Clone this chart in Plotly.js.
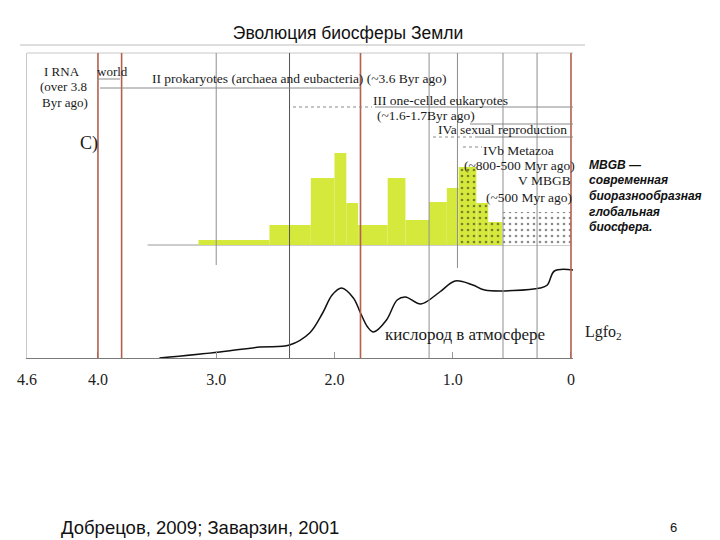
<!DOCTYPE html>
<html>
<head>
<meta charset="utf-8">
<script src="https://cdn.plot.ly/plotly-3.0.1.min.js"></script>
<style>
  html, body { margin: 0; padding: 0; background: #ffffff; }
  #chart { width: 720px; height: 540px; }
</style>
</head>
<body>
<div id="chart"></div>
<script>
// ---------------- DATA ----------------
// Time axis (billions of years ago)
const ageTicks = [4.6, 4.0, 3.0, 2.0, 1.0, 0];
const ageTickText = ['4.6', '4.0', '3.0', '2.0', '1.0', '0'];

// Biodiversity histogram (arbitrary units above the histogram baseline)
const binStart  = [3.15, 2.55, 2.2, 2.0, 1.9, 1.8, 1.55, 1.4, 1.2, 1.05, 0.95, 0.8, 0.7];
const binEnd    = [2.55, 2.2, 2.0, 1.9, 1.8, 1.55, 1.4, 1.2, 1.05, 0.95, 0.8, 0.7, 0.58];
const binHeight = [5, 20, 67, 92, 42, 20, 67, 25, 43, 57, 78, 42, 23];
const binDotted = [0, 0, 0, 0, 0, 0, 0, 0, 0, 0, 1, 1, 1];
// Modern biodiverse global biosphere (white dotted block)
const mbgbStart  = [0.58];
const mbgbEnd    = [0];
const mbgbHeight = [33];
const histBaseline = 113;
const histBaselineFrom = 3.58;

// Atmospheric oxygen curve (Lg fO2, arbitrary units)
const oxyAge   = [3.48, 2.97, 2.63, 2.38, 2.21, 2.10, 2.02, 1.94, 1.84, 1.78, 1.72, 1.67, 1.56, 1.47, 1.40, 1.27, 1.11, 0.98, 0.83, 0.73, 0.26, 0.20, 0.14, -0.017];
const oxyLevel = [0, 6, 11, 13, 25, 45, 63, 70, 60, 45, 31, 26, 38, 58, 61, 54, 66, 77, 73, 68, 70, 73, 87, 88];

// Boundary lines (ages)
const redLineAges   = [4.0, 3.8, 1.78, 0];
const grayLineAges  = [2.38, 1.2, 0.575, 0.287];
const shortLineAges = [3.0, 0.96];
const shortLineLow  = [93, 90];

// ---------------- LAYOUT HELPERS ----------------
const PL = 27, PR = 573, PT = 53, PB = 358;
const px2x = p => (p - PL) / (PR - PL);
const py2y = p => (PB - p) / (PB - PT);
const Y_TOP = PB - PT;

const GREEN = '#d5e93c';
const RED = '#b4604c';
const GRAY = '#8d8f8f';
const SERIF = 'Liberation Serif, Times New Roman, serif';
const SANS = 'Liberation Sans, Arial, sans-serif';

// ---------------- TRACES ----------------
const mid = (a, b) => a.map((v, i) => (v + b[i]) / 2);
const wid = (a, b) => a.map((v, i) => Math.abs(v - b[i]));

const plainIdx = binDotted.map((d, i) => d ? -1 : i).filter(i => i >= 0);
const dotIdx = binDotted.map((d, i) => d ? i : -1).filter(i => i >= 0);
const pick = (arr, idx) => idx.map(i => arr[i]);

const dotPattern = (bg) => ({ shape: '.', fgcolor: '#1a1a1a', bgcolor: bg, size: 6, solidity: 0.16, fillmode: 'overlay' });

const traces = [
  {
    type: 'bar',
    x: mid(pick(binStart, plainIdx), pick(binEnd, plainIdx)),
    width: wid(pick(binStart, plainIdx), pick(binEnd, plainIdx)),
    y: pick(binHeight, plainIdx),
    base: histBaseline,
    marker: { color: GREEN, line: { width: 0 } },
    hoverinfo: 'skip', showlegend: false
  },
  {
    type: 'bar',
    x: mid(pick(binStart, dotIdx), pick(binEnd, dotIdx)),
    width: wid(pick(binStart, dotIdx), pick(binEnd, dotIdx)),
    y: pick(binHeight, dotIdx),
    base: histBaseline,
    marker: { color: GREEN, line: { width: 0 }, pattern: dotPattern(GREEN) },
    hoverinfo: 'skip', showlegend: false
  },
  {
    type: 'bar',
    x: mid(mbgbStart, mbgbEnd),
    width: wid(mbgbStart, mbgbEnd),
    y: mbgbHeight,
    base: histBaseline,
    marker: { color: '#ffffff', line: { width: 0 }, pattern: dotPattern('#ffffff') },
    hoverinfo: 'skip', showlegend: false
  },
  {
    type: 'scatter', mode: 'lines',
    x: oxyAge, y: oxyLevel,
    line: { color: '#111111', width: 1.5, shape: 'spline', smoothing: 1 },
    hoverinfo: 'skip', showlegend: false
  }
];

// ---------------- SHAPES ----------------
const shapes = [];
// slide rule under title
shapes.push({ type: 'line', xref: 'paper', yref: 'paper', x0: px2x(20), x1: px2x(585), y0: py2y(45), y1: py2y(45), line: { color: '#bdbdbd', width: 1 } });
// frame top
shapes.push({ type: 'line', xref: 'paper', yref: 'paper', x0: 0, x1: 1, y0: 1, y1: 1, line: { color: '#c8c8c8', width: 1 } });
// histogram baseline
shapes.push({ type: 'line', xref: 'x', yref: 'y', x0: histBaselineFrom, x1: 0, y0: histBaseline, y1: histBaseline, line: { color: '#9a9a9a', width: 1 }, layer: 'below' });

grayLineAges.forEach((a, i) => shapes.push({ type: 'line', xref: 'x', yref: 'y', x0: a, x1: a, y0: 0, y1: Y_TOP, line: { color: i === 0 ? '#555' : GRAY, width: 1 } }));
shortLineAges.forEach((a, i) => shapes.push({ type: 'line', xref: 'x', yref: 'y', x0: a, x1: a, y0: shortLineLow[i], y1: Y_TOP, line: { color: GRAY, width: 1 } }));
redLineAges.forEach(a => shapes.push({ type: 'line', xref: 'x', yref: 'y', x0: a, x1: a, y0: 0, y1: Y_TOP + 2, line: { color: RED, width: 1.6 } }));

// label separators (pixel positions of the scanned figure)
const seg = (x0, x1, yp, dash, col) => shapes.push({ type: 'line', xref: 'paper', yref: 'paper', x0: px2x(x0), x1: px2x(x1), y0: py2y(yp), y1: py2y(yp), line: { color: col || '#8a8a8a', width: 1, dash: dash ? 'dot' : 'solid' } });
seg(97, 120, 79, false);
seg(100, 360, 88, false);
seg(293, 372, 107, true);
seg(375, 573, 107, false);
seg(470, 573, 124, false);
seg(433, 478, 137, true);
seg(478, 573, 137, false);
seg(463, 482, 147, true);

// ---------------- ANNOTATIONS ----------------
const ann = [];
const FIG = { family: SERIF, size: 13.5, color: '#1a1a1a' };
const txt = (text, xp, yp, opts) => ann.push(Object.assign({
  text: text, xref: 'paper', yref: 'paper', x: px2x(xp), y: py2y(yp),
  xanchor: 'left', yanchor: 'middle', showarrow: false,
  font: FIG
}, opts || {}));

txt('I RNA', 42, 71, { font: { family: SERIF, size: 13, color: '#1a1a1a' } });
txt('world', 95, 71, { font: { family: SERIF, size: 13, color: '#1a1a1a' } });
txt('(over 3.8', 38, 86, { font: { family: SERIF, size: 13, color: '#1a1a1a' } });
txt('Byr ago)', 40, 102, { font: { family: SERIF, size: 13, color: '#1a1a1a' } });
txt('C)', 78, 143, { font: { family: SERIF, size: 18, color: '#1a1a1a' } });
txt('II prokaryotes (archaea and eubacteria) (~3.6 Byr ago)', 150, 78);
txt('III one-celled eukaryotes', 371, 100);
txt('(~1.6-1.7Byr ago)', 375, 115);
txt('IVa sexual reproduction', 436, 129);
txt('IVb Metazoa', 481, 150);
txt('(~800-500 Myr ago)', 577, 165, { xanchor: 'right' });
txt('V MBGB', 573, 180, { xanchor: 'right' });
txt('(~500 Myr ago)', 574, 197, { xanchor: 'right' });
txt('кислород в атмосфере', 383, 334, { font: { family: SERIF, size: 17, color: '#1a1a1a' } });
txt('Lgfo<sub>2</sub>', 583, 332, { font: { family: SERIF, size: 16, color: '#1a1a1a' } });

const noteLines = ['MBGB —', 'современная', 'биоразнообразная', 'глобальная', 'биосфера.'];
const noteY = [165, 180, 196, 212, 227];
noteLines.forEach((t, i) => txt('<i><b>' + t + '</b></i>', 587, noteY[i], { font: { family: SANS, size: 12, color: '#111' } }));

txt('Добрецов, 2009; Заварзин, 2001', 59, 527, { font: { family: SANS, size: 18.5, color: '#111' } });
txt('6', 673, 527, { xanchor: 'center', font: { family: SANS, size: 13, color: '#111' } });

// ---------------- LAYOUT ----------------
const layout = {
  width: 720, height: 540,
  paper_bgcolor: '#ffffff', plot_bgcolor: '#ffffff',
  margin: { l: PL, r: 720 - PR, t: PT, b: 540 - PB, pad: 0 },
  title: {
    text: 'Эволюция биосферы Земли',
    font: { family: SANS, size: 17.5, color: '#111' },
    x: 348 / 720, xref: 'container', xanchor: 'center',
    y: 1 - 33 / 540, yref: 'container', yanchor: 'middle'
  },
  barmode: 'overlay',
  showlegend: false,
  xaxis: {
    range: [4.6, -0.017], autorange: false,
    tickvals: ageTicks, ticktext: ageTickText,
    ticks: 'inside', ticklen: 6, tickcolor: '#999', tickwidth: 1,
    ticklabelstandoff: 7,
    tickfont: { family: SERIF, size: 16, color: '#222' },
    showline: true, linecolor: '#7a7a7a', linewidth: 1,
    showgrid: false, zeroline: false, fixedrange: true
  },
  yaxis: {
    range: [0, Y_TOP], autorange: false,
    showticklabels: false, ticks: '',
    showline: true, linecolor: '#c8c8c8', linewidth: 1,
    showgrid: false, zeroline: false, fixedrange: true
  },
  shapes: shapes,
  annotations: ann
};

Plotly.newPlot('chart', traces, layout, { displayModeBar: false, staticPlot: true });
</script>
</body>
</html>
